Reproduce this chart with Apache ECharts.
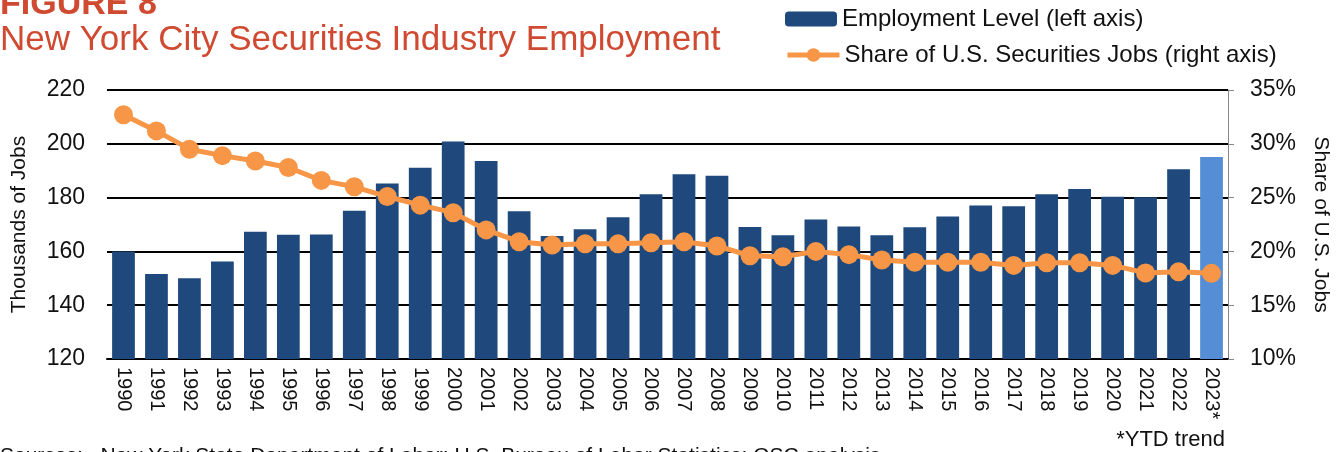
<!DOCTYPE html>
<html lang="en">
<head>
    <meta charset="UTF-8">
    <script src="https://cdn.jsdelivr.net/npm/echarts@6.0.0/dist/echarts.min.js"></script>
    <title>NYC Securities Industry Employment</title>
    <style>
        html, body { margin: 0; padding: 0; background: #fff; }
        #chart { width: 1343px; height: 452px; }
    </style>
</head>
<body>
    <div id="chart"></div>
    <script type="text/javascript">
        // data
        var years = ['1990', '1991', '1992', '1993', '1994', '1995', '1996', '1997', '1998', '1999',
            '2000', '2001', '2002', '2003', '2004', '2005', '2006', '2007', '2008', '2009',
            '2010', '2011', '2012', '2013', '2014', '2015', '2016', '2017', '2018', '2019',
            '2020', '2021', '2022', '2023*'];
        // thousands of jobs
        var employment = [160, 151.6, 150, 156.2, 167.3, 166.2, 166.3, 175.1, 185.2, 191.1,
            200.9, 193.6, 174.9, 165.7, 168.2, 172.7, 181.2, 188.7, 188.1, 169.1,
            166.0, 171.9, 169.3, 166.0, 169.0, 173.0, 177.1, 176.8, 181.2, 183.2,
            180.3, 180.1, 190.5, 195.1];
        // share of U.S. securities jobs, percent
        var share = [32.7, 31.2, 29.5, 28.9, 28.4, 27.8, 26.6, 26.0, 25.1, 24.3,
            23.6, 22.0, 20.9, 20.6, 20.7, 20.7, 20.8, 20.9, 20.5, 19.6,
            19.5, 20.0, 19.7, 19.2, 19.0, 19.0, 19.0, 18.7, 18.95, 18.95,
            18.7, 18.0, 18.1, 17.96];

        var barName = 'Employment Level (left axis)';
        var lineName = 'Share of U.S. Securities Jobs (right axis)';
        var font = 'Liberation Sans, Arial, sans-serif';

        var barData = employment.map(function (v, i) {
            if (i === employment.length - 1) {
                return { value: v, itemStyle: { color: '#558ED5' } };
            }
            return v;
        });

        var chart = echarts.init(document.getElementById('chart'));
        var option = {
            animation: false,
            textStyle: { fontFamily: font },
            title: [
                {
                    text: 'FIGURE 8', left: 0, top: -12, padding: 0,
                    textStyle: { fontFamily: font, fontSize: 34, fontWeight: 'bold', color: '#CF4A30' }
                },
                {
                    text: 'New York City Securities Industry Employment', left: 0, top: 23, padding: 0,
                    textStyle: { fontFamily: font, fontSize: 35, fontWeight: 'normal', color: '#CF4A30' }
                }
            ],
            legend: [
                {
                    data: [barName], left: 785, top: 7, padding: 0,
                    itemWidth: 52, itemHeight: 15, itemGap: 6,
                    textStyle: { fontFamily: font, fontSize: 24, color: '#111' }
                },
                {
                    data: [lineName], left: 785, top: 43, padding: 0,
                    itemWidth: 52, itemHeight: 17, itemGap: 6,
                    lineStyle: { width: 5, color: '#F79646' },
                    textStyle: { fontFamily: font, fontSize: 24, color: '#111' }
                }
            ],
            grid: { left: 107, right: 115, top: 90, bottom: 93 },
            xAxis: {
                type: 'category',
                data: years,
                axisLine: { lineStyle: { color: '#000', width: 2 } },
                axisTick: { alignWithLabel: true, length: 5, lineStyle: { color: '#000', width: 1.5 } },
                axisLabel: { rotate: -90, fontSize: 20, color: '#111', margin: 8, fontFamily: font }
            },
            yAxis: [
                {
                    type: 'value', min: 120, max: 220, interval: 20,
                    name: 'Thousands of Jobs', nameLocation: 'middle', nameRotate: 90, nameGap: 77,
                    nameTextStyle: { fontSize: 21, color: '#111', fontFamily: font },
                    axisLine: { show: false },
                    axisTick: { show: false },
                    axisLabel: { fontSize: 23, color: '#111', margin: 22, fontFamily: font },
                    splitLine: { lineStyle: { color: '#000', width: 2 } }
                },
                {
                    type: 'value', min: 10, max: 35, interval: 5,
                    name: 'Share of U.S. Jobs', nameLocation: 'middle', nameRotate: -90, nameGap: 82,
                    nameTextStyle: { fontSize: 21, color: '#111', fontFamily: font },
                    axisLine: { show: true, lineStyle: { color: '#888', width: 1 } },
                    axisTick: { show: true, length: 6, lineStyle: { color: '#888' } },
                    axisLabel: { fontSize: 23, color: '#111', margin: 22, formatter: '{value}%', fontFamily: font },
                    splitLine: { show: false }
                }
            ],
            series: [
                {
                    name: barName,
                    type: 'bar',
                    data: barData,
                    barWidth: '69%',
                    itemStyle: { color: '#1F497D' }
                },
                {
                    name: lineName,
                    type: 'line',
                    yAxisIndex: 1,
                    data: share,
                    symbol: 'circle',
                    symbolSize: 19,
                    lineStyle: { color: '#F79646', width: 5 },
                    itemStyle: { color: '#F79646' },
                    z: 5
                }
            ],
            graphic: [
                {
                    type: 'text', right: 118, top: 429,
                    style: { text: '*YTD trend', fontSize: 22, fontFamily: font, fill: '#111' }
                },
                {
                    type: 'text', left: 0, top: 446,
                    style: {
                        text: 'Sources:   New York State Department of Labor; U.S. Bureau of Labor Statistics; OSC analysis',
                        fontSize: 21, fontFamily: font, fill: '#111'
                    }
                }
            ]
        };
        chart.setOption(option);
    </script>
</body>
</html>
